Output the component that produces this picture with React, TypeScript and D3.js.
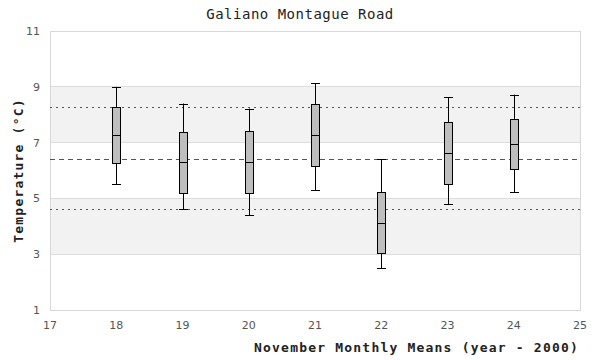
import React from "react";
import * as d3 from "d3";

const years = [18, 19, 20, 21, 22, 23, 24];
const whiskerHigh = [9.0, 8.4, 8.22, 9.12, 6.4, 8.62, 8.72];
const q3 = [8.27, 7.37, 7.4, 8.37, 5.22, 7.73, 7.85];
const median = [7.26, 6.3, 6.3, 7.26, 4.11, 6.62, 6.94];
const q1 = [6.26, 5.18, 5.18, 6.16, 3.04, 5.5, 6.04];
const whiskerLow = [5.5, 4.61, 4.39, 5.29, 2.49, 4.79, 5.22];

const xTicks = [17, 18, 19, 20, 21, 22, 23, 24, 25];
const yTicks = [1, 3, 5, 7, 9, 11];
const bands = [[3, 5], [7, 9]];
const meanLine = 6.4;
const sdLines = [8.29, 4.61];

const title = "Galiano Montague Road";
const xTitle = "November Monthly Means (year - 2000)";
const yTitle = "Temperature (°C)";

export default function App() {
  const W = 600, H = 360;
  const L = 50, R = 580, T = 31, B = 310;
  const x = d3.scaleLinear().domain([17, 25]).range([L, R]);
  const y = d3.scaleLinear().domain([1, 11]).range([B, T]);
  const bw = 8;
  const cw = 9;
  const mono = "'DejaVu Sans Mono', monospace";
  return (
    <svg width={W} height={H} style={{ position: "absolute", left: 0, top: 0 }}>
      <rect x={0} y={0} width={W} height={H} fill="#fff" />
      {bands.map(([a, b], i) => (
        <rect key={i} x={L} y={y(b)} width={R - L} height={y(a) - y(b)} fill="#f2f2f2" />
      ))}
      {yTicks.slice(1, -1).map((t) => (
        <line key={t} x1={L} x2={R} y1={y(t)} y2={y(t)} stroke="#dcdcdc" strokeWidth={1} shapeRendering="crispEdges" />
      ))}
      <rect x={L} y={T} width={R - L} height={B - T} fill="none" stroke="#d8d8d8" strokeWidth={1} shapeRendering="crispEdges" />
      {sdLines.map((v, i) => (
        <line key={i} x1={L} x2={R} y1={Math.round(y(v)) + 0.5} y2={Math.round(y(v)) + 0.5} stroke="#555" strokeWidth={1} strokeDasharray="2,4" />
      ))}
      <line x1={L} x2={R} y1={Math.round(y(meanLine)) + 0.5} y2={Math.round(y(meanLine)) + 0.5} stroke="#555" strokeWidth={1} strokeDasharray="5,4" />
      {years.map((yr, i) => {
        const cx = Math.round(x(yr)) + 0.5;
        return (
          <g key={yr} stroke="#000" strokeWidth={1}>
            <line x1={cx} x2={cx} y1={y(whiskerHigh[i])} y2={y(q3[i])} />
            <line x1={cx} x2={cx} y1={y(q1[i])} y2={y(whiskerLow[i])} />
            <line x1={cx - cw / 2} x2={cx + cw / 2} y1={Math.round(y(whiskerHigh[i])) + 0.5} y2={Math.round(y(whiskerHigh[i])) + 0.5} />
            <line x1={cx - cw / 2} x2={cx + cw / 2} y1={Math.round(y(whiskerLow[i])) + 0.5} y2={Math.round(y(whiskerLow[i])) + 0.5} />
            <rect x={cx - bw / 2} y={Math.round(y(q3[i])) + 0.5} width={bw} height={Math.round(y(q1[i])) - Math.round(y(q3[i]))} fill="#bebebe" />
            <line x1={cx - bw / 2} x2={cx + bw / 2} y1={Math.round(y(median[i])) + 0.5} y2={Math.round(y(median[i])) + 0.5} />
          </g>
        );
      })}
      {yTicks.map((t) => (
        <text key={t} x={40} y={y(t) + 4} textAnchor="end" fontFamily="'DejaVu Sans', sans-serif" fontSize={11} fill="#555">{t}</text>
      ))}
      {xTicks.map((t) => (
        <text key={t} x={x(t)} y={329} textAnchor="middle" fontFamily="'DejaVu Sans', sans-serif" fontSize={11} fill="#555">{t}</text>
      ))}
      <text x={300} y={19} textAnchor="middle" fontFamily={mono} fontSize={14} letterSpacing={0.5} fill="#222">{title}</text>
      <text x={579} y={352} textAnchor="end" fontFamily={mono} fontWeight="bold" fontSize={13} letterSpacing={1.2} fill="#222">{xTitle}</text>
      <text transform={`translate(23,${(T + B) / 2}) rotate(-90)`} textAnchor="middle" fontFamily={mono} fontWeight="bold" fontSize={13} letterSpacing={1.2} fill="#222">{yTitle}</text>
    </svg>
  );
}
